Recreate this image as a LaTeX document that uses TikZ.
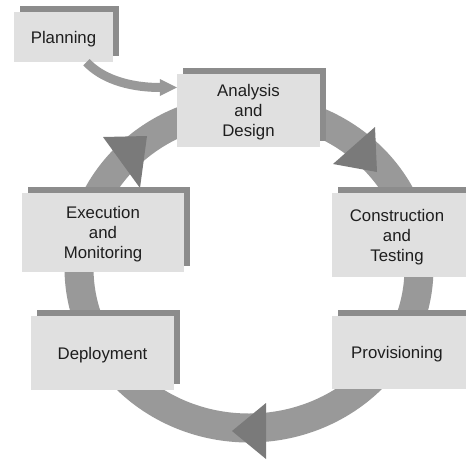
\documentclass[tikz,border=0pt]{standalone}
\usepackage{fontspec}
\setmainfont{Liberation Sans}
\usetikzlibrary{shadows}
\definecolor{ringc}{HTML}{999999}
\definecolor{headc}{HTML}{7A7A7A}
\definecolor{shadec}{HTML}{8C8C8C}
\definecolor{facec}{HTML}{E0E0E0}
\definecolor{inkc}{HTML}{1E1E1E}
\begin{document}
\begin{tikzpicture}[x=1pt,y=-1pt,
  box/.style={fill=facec, draw=none, text=inkc, align=center, inner sep=0pt,
    text depth=0pt,
    font=\fontsize{16.8}{20}\selectfont,
    drop shadow={shadow xshift=6pt, shadow yshift=6pt, fill=shadec, opacity=1}},
  band/.style={draw=ringc, line width=29pt},
  head/.style={fill=headc, draw=none}]
\useasboundingbox (0,0) rectangle (466,459);
\clip (0,0) rectangle (466,459);
\fill[white] (0,0) rectangle (466,459);

% cycle ring
\draw[band] (249,268) ellipse [x radius=170pt, y radius=160pt];
\fill[head] (147,136) -- (103,137) -- (140,188) -- cycle;
\fill[head] (377,172) -- (375,127) -- (333,164) -- cycle;
\fill[head] (232,431) -- (266,403) -- (266,459) -- cycle;

% boxes
\node[box, minimum width=99pt, minimum height=50pt] (plan) at (63.5,37) {Planning};
\node[box, minimum width=143pt, minimum height=73pt] (ana) at (248.5,110.5) {Analysis\\and\\Design};
\node[box, minimum width=130pt, minimum height=84pt] (con) at (397,235) {Construction\\and\\Testing};
\fill[facec] (con.north east) rectangle ([xshift=12pt]con.south east);
\node[box, minimum width=162pt, minimum height=79pt] (exe) at (103,232.5) {Execution\\and\\Monitoring};
\node[box, minimum width=143pt, minimum height=74pt] (dep) at (102.5,353) {Deployment};
\node[box, minimum width=130pt, minimum height=73pt] (pro) at (397,352.5) {Provisioning};
\fill[facec] (pro.north east) rectangle ([xshift=12pt]pro.south east);

% planning arrow
\coordinate (pa) at ([xshift=23pt]plan.south);
\coordinate (pt) at ([yshift=23pt]ana.west);
\draw[draw=ringc, line width=9pt] (pa) .. controls +(14,15) and +(-35,0) .. ([xshift=-16pt]pt);
\fill[ringc] (pt) -- ++(-17,-8.5) -- ++(0,17) -- cycle;
\end{tikzpicture}
\end{document}
